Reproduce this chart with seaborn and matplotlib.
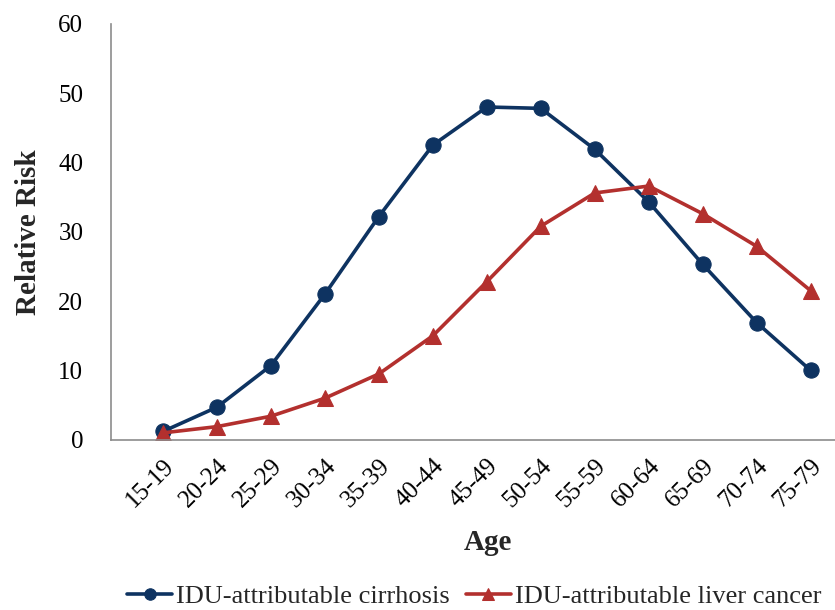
import matplotlib
matplotlib.use("Agg")
import numpy as np
import pandas as pd
import seaborn as sns
import matplotlib.pyplot as plt

# age groups and relative risk
ages = ["15-19", "20-24", "25-29", "30-34", "35-39", "40-44", "45-49",
        "50-54", "55-59", "60-64", "65-69", "70-74", "75-79"]
cirrhosis = [1.2, 4.7, 10.7, 21.0, 32.2, 42.5, 48.0, 47.8, 41.9, 34.3, 25.3, 16.9, 10.0]
liver_cancer = [1.0, 1.9, 3.4, 6.0, 9.5, 15.0, 22.8, 30.8, 35.6, 36.6, 32.6, 27.9, 21.5]
yticks = [0, 10, 20, 30, 40, 50, 60]

navy = "#0E3361"
red = "#B3302E"
grey = "#8C8C8C"

sns.set_style("white")
plt.rcParams["font.family"] = ["Liberation Serif", "DejaVu Serif"]

df = pd.DataFrame({"Age": ages, "cirr": cirrhosis, "liver": liver_cancer})

fig = plt.figure(figsize=(8.35, 6.1), dpi=100)
ax = fig.add_axes([0.133, 0.279, 0.867, 0.682])

sns.lineplot(data=df, x="Age", y="cirr", ax=ax, sort=False, color=navy, lw=2.6,
             marker="o", markersize=11, markeredgecolor=navy,
             label="IDU-attributable cirrhosis")
sns.lineplot(data=df, x="Age", y="liver", ax=ax, sort=False, color=red, lw=2.6,
             marker="^", markersize=11, markeredgecolor=red,
             label="IDU-attributable liver cancer")

ax.set_ylim(0, 60)
ax.set_yticks(yticks)
ax.set_xlim(-0.96, 12.45)
ax.set_xticks(range(len(ages)))
ax.set_xticklabels(ages, rotation=45, ha="right", rotation_mode="anchor")

for s in ["top", "right"]:
    ax.spines[s].set_visible(False)
for s in ["left", "bottom"]:
    ax.spines[s].set_color(grey)
    ax.spines[s].set_linewidth(1.2)
ax.tick_params(axis="both", which="major", direction="out", length=6, width=1.2,
               color=grey, labelsize=18, labelcolor="black")
ax.tick_params(axis="y", pad=14)
ax.tick_params(axis="x", pad=5)

ax.set_xlabel("Age", fontsize=21, fontweight="bold")
ax.xaxis.set_label_coords(0.52, -0.215)
ax.set_ylabel("Relative Risk", fontsize=21, fontweight="bold", labelpad=12)

ax.get_legend().remove()
handles, labels = ax.get_legend_handles_labels()
fig.legend(handles, labels, loc="center", bbox_to_anchor=(0.568, 0.022), ncol=2,
           frameon=False, fontsize=19, handlelength=1.7, columnspacing=0.6,
           handletextpad=0.15, markerscale=0.75, borderpad=0)

fig.savefig("out.png", dpi=100)
